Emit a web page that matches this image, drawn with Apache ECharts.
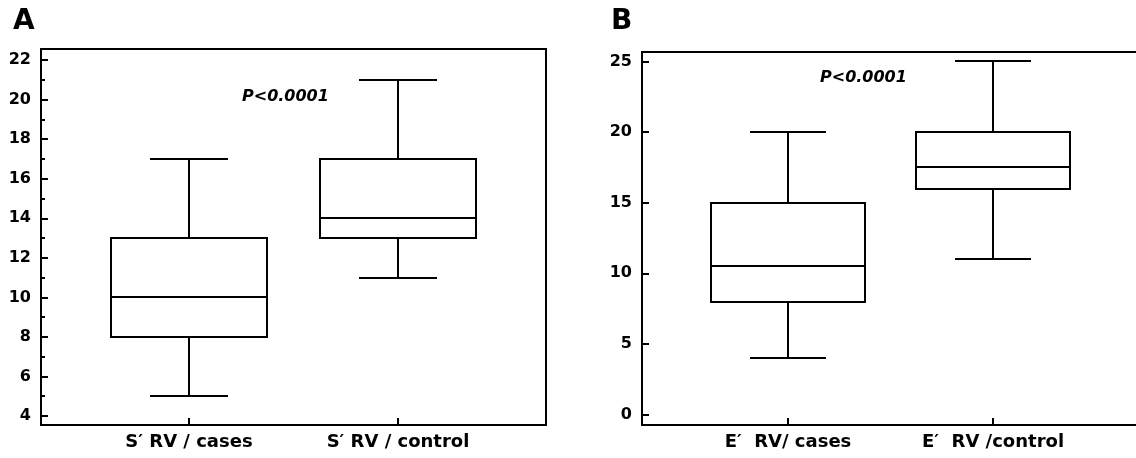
<!DOCTYPE html>
<html>
<head>
<meta charset="utf-8">
<title>S′ RV / E′ RV boxplots</title>
<script src="https://cdn.jsdelivr.net/npm/echarts@6/dist/echarts.min.js"></script>
<style>
  html, body { margin: 0; padding: 0; background: #fff; }
  #box { width: 1136px; height: 458px; }
</style>
</head>
<body>
<div id="box"></div>
<script>
// panel A - S' RV
let catsA = ['S′ RV / cases', 'S′ RV / control'];
// each row: min, Q1, median, Q3, max
let boxA = [
  [5, 8, 10, 13, 17],
  [11, 13, 14, 17, 21]
];
let ticksA = [4, 6, 8, 10, 12, 14, 16, 18, 20, 22];
let minorA = [5, 7, 9, 11, 13, 15, 17, 19, 21];

// panel B - E' RV
let catsB = ['E′  RV/ cases', 'E′  RV /control'];
let boxB = [
  [4, 8, 10.5, 15, 20],
  [11, 16, 17.5, 20, 25]
];
let ticksB = [0, 5, 10, 15, 20, 25];

let pText = 'P<0.0001';

let font = 'DejaVu Sans';
let lineW = 2;

// x is a value axis so the two boxes sit where they do in the figure (1 and 2)
function xAxisFor(gridIndex, cats, min, max) {
  return {
    type: 'value',
    gridIndex: gridIndex,
    min: min,
    max: max,
    axisLine: {show: true, onZero: false, lineStyle: {color: '#000', width: 2}},
    splitLine: {show: false},
    axisTick: {
      customValues: [1, 2],
      inside: true,
      length: 7,
      lineStyle: {color: '#000', width: 2}
    },
    axisLabel: {
      customValues: [1, 2],
      formatter: v => cats[Math.round(v) - 1],
      color: '#000',
      fontFamily: font,
      fontWeight: 'bold',
      fontSize: 18,
      margin: 8
    }
  };
}

function yAxisFor(gridIndex, ticks, min, max, len, labels) {
  return {
    type: 'value',
    gridIndex: gridIndex,
    position: 'left',
    min: min,
    max: max,
    axisLine: {show: true, onZero: false, lineStyle: {color: '#000', width: 2}},
    splitLine: {show: false},
    axisTick: {
      customValues: ticks,
      inside: true,
      length: len,
      lineStyle: {color: '#000', width: 2}
    },
    axisLabel: {
      show: labels,
      customValues: ticks,
      color: '#000',
      fontFamily: font,
      fontWeight: 'bold',
      fontSize: 16,
      margin: 10
    }
  };
}

// box + median + whiskers, caps are half the box width like the figure
function boxSeries(xi, yi, rows, width) {
  return {
    type: 'custom',
    xAxisIndex: xi,
    yAxisIndex: yi,
    silent: true,
    data: rows.map((r, i) => [i + 1].concat(r)),
    encode: {x: 0, y: [1, 2, 3, 4, 5]},
    renderItem: function (params, api) {
      let x = api.value(0);
      // round to whole pixels so the 2px lines stay crisp
      let yOf = k => Math.round(api.coord([x, api.value(k)])[1]);
      let yMin = yOf(1), yQ1 = yOf(2), yMed = yOf(3), yQ3 = yOf(4), yMax = yOf(5);
      let cx = Math.round(api.coord([x, api.value(3)])[0]);
      let hw = Math.round(width / 2);
      let cap = Math.round(width / 4);
      let st = {stroke: '#000', lineWidth: lineW, fill: null};
      let seg = (x1, y1, x2, y2) => ({type: 'line', shape: {x1: x1, y1: y1, x2: x2, y2: y2}, style: st});
      return {
        type: 'group',
        children: [
          {type: 'rect', shape: {x: cx - hw, y: yQ3, width: hw * 2, height: yQ1 - yQ3},
            style: {stroke: '#000', lineWidth: lineW, fill: '#fff'}},
          seg(cx - hw, yMed, cx + hw, yMed),
          seg(cx, yQ3, cx, yMax),
          seg(cx, yQ1, cx, yMin),
          seg(cx - cap, yMax, cx + cap, yMax),
          seg(cx - cap, yMin, cx + cap, yMin)
        ]
      };
    }
  };
}

let chart = echarts.init(document.getElementById('box'));

let option = {
  animation: false,
  backgroundColor: '#fff',
  grid: [
    {left: 41, top: 49, width: 505, height: 376, outerBoundsMode: 'none',
      show: true, borderColor: '#000', borderWidth: 2},
    {left: 642, top: 52, width: 497, height: 373, outerBoundsMode: 'none',
      show: true, borderColor: '#000', borderWidth: 2}
  ],
  xAxis: [
    xAxisFor(0, catsA, 0.292, 2.708),
    xAxisFor(1, catsB, 0.288, 2.712)
  ],
  yAxis: [
    yAxisFor(0, ticksA, 3.545, 22.56, 7, true),
    yAxisFor(0, minorA, 3.545, 22.56, 4, false), // short minor ticks
    yAxisFor(1, ticksB, -0.74, 25.67, 7, true)
  ],
  series: [
    boxSeries(0, 0, boxA, 155),
    boxSeries(1, 2, boxB, 153)
  ],
  graphic: [
    {type: 'text', left: 13, top: 8, style: {text: 'A', fill: '#000', font: 'bold 28px ' + font}},
    {type: 'text', left: 611, top: 8, style: {text: 'B', fill: '#000', font: 'bold 28px ' + font}},
    {type: 'text', left: 242, top: 89, style: {text: pText, fill: '#000', font: 'italic bold 16px ' + font}},
    {type: 'text', left: 820, top: 70, style: {text: pText, fill: '#000', font: 'italic bold 16px ' + font}}
  ]
};

chart.setOption(option);
</script>
</body>
</html>
